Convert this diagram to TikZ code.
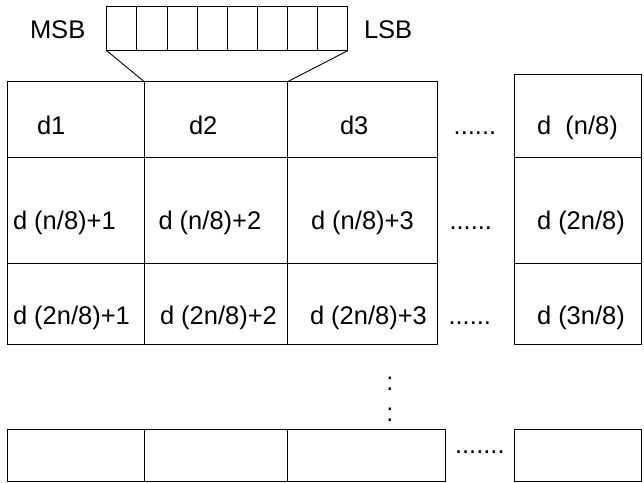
\documentclass[tikz,border=0pt]{standalone}
\usepackage{fontspec}
\setmainfont{Liberation Sans}
\begin{document}
\begin{tikzpicture}[x=1pt,y=-1pt,
  cell/.style={draw=black,line width=0.9pt,inner sep=0pt,outer sep=0pt,anchor=north west},
  lbl/.style={inner sep=0pt,outer sep=0pt,anchor=base west,font=\fontsize{25.5}{30}\selectfont},
  dotsv/.style={inner sep=0pt,outer sep=0pt,anchor=base,font=\fontsize{25.5}{30}\selectfont},
  link/.style={draw=black,line width=0.9pt}]
\useasboundingbox (0,0) rectangle (644,482);
% byte register
\foreach \i in {0,...,7}{
  \node[cell,minimum width=30.125pt,minimum height=44pt] (b\i) at ({106.7+30.125*\i},6.7) {};
}
\node[lbl] (msb) at (30,38) {MSB};
\node[lbl] (lsb) at (364,38) {LSB};
% main grid
\node[cell,minimum width=136.9pt,minimum height=75.8pt] (c11) at (7.3,81.7) {};
\node[cell,minimum width=143.3pt,minimum height=75.8pt] (c12) at (144.2,81.7) {};
\node[cell,minimum width=149.5pt,minimum height=75.8pt] (c13) at (287.5,81.7) {};
\node[cell,minimum width=127.4pt,minimum height=83.2pt] (c14) at (514.3,74.3) {};
\node[cell,minimum width=136.9pt,minimum height=105.8pt] (c21) at (7.3,157.5) {};
\node[cell,minimum width=143.3pt,minimum height=105.8pt] (c22) at (144.2,157.5) {};
\node[cell,minimum width=149.5pt,minimum height=105.8pt] (c23) at (287.5,157.5) {};
\node[cell,minimum width=127.4pt,minimum height=105.8pt] (c24) at (514.3,157.5) {};
\node[cell,minimum width=136.9pt,minimum height=81.2pt] (c31) at (7.3,263.3) {};
\node[cell,minimum width=143.3pt,minimum height=81.2pt] (c32) at (144.2,263.3) {};
\node[cell,minimum width=149.5pt,minimum height=81.2pt] (c33) at (287.5,263.3) {};
\node[cell,minimum width=127.4pt,minimum height=81.2pt] (c34) at (514.3,263.3) {};
% last row
\node[cell,minimum width=136.9pt,minimum height=51.7pt] (c41) at (7.3,429.3) {};
\node[cell,minimum width=143.3pt,minimum height=51.7pt] (c42) at (144.2,429.3) {};
\node[cell,minimum width=157.5pt,minimum height=51.7pt] (c43) at (287.5,429.3) {};
\node[cell,minimum width=127.4pt,minimum height=51.7pt] (c44) at (514.3,429.3) {};
% expansion lines
\draw[link] (b0.south west) -- (c11.north east);
\draw[link] (b7.south east) -- (c12.north east);
% labels
\node[lbl] (t11) at (37,134) {d1};
\node[lbl] (t12) at (189,134) {d2};
\node[lbl] (t13) at (340,134) {d3};
\node[lbl] (t1d) at (453.7,134) {......};
\node[lbl] (t14) at (537,134) {d\ \ (n/8)};
\node[lbl] (t21) at (13,229) {d (n/8)+1};
\node[lbl] (t22) at (158.5,229) {d (n/8)+2};
\node[lbl] (t23) at (311,229) {d (n/8)+3};
\node[lbl] (t2d) at (449.5,229) {......};
\node[lbl] (t24) at (537,229) {d (2n/8)};
\node[lbl] (t31) at (13,324) {d (2n/8)+1};
\node[lbl] (t32) at (160,324) {d (2n/8)+2};
\node[lbl] (t33) at (310,324) {d (2n/8)+3};
\node[lbl] (t3d) at (448.5,324) {......};
\node[lbl] (t34) at (537,324) {d (3n/8)};
\node[dotsv] (v1) at (390,390) {:};
\node[dotsv] (v2) at (390,421.5) {:};
\node[lbl] (t4d) at (455,453.6) {.......};
\end{tikzpicture}
\end{document}
